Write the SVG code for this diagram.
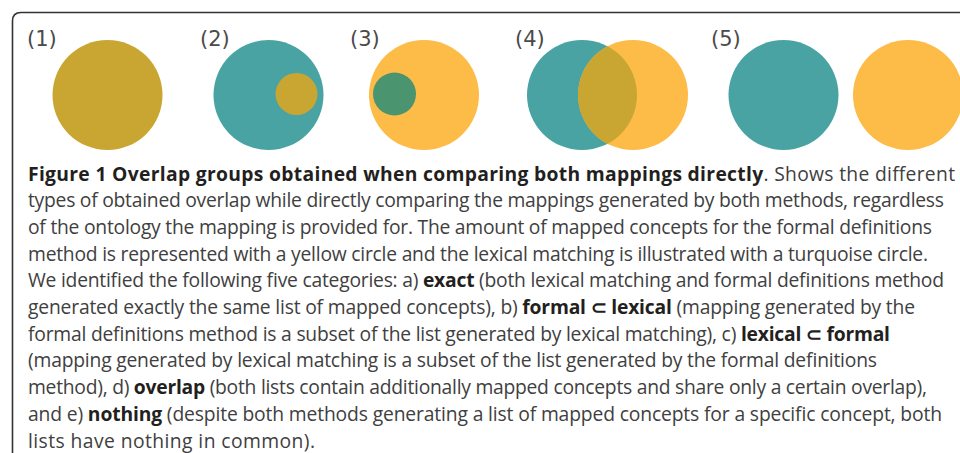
<svg xmlns="http://www.w3.org/2000/svg" width="960" height="453" viewBox="0 0 960 453">
<style>
.lbl{font-family:"DejaVu Sans",Verdana,sans-serif;font-size:21px;fill:#4a4a4a}
.cap{font-family:"Open Sans","Liberation Sans",sans-serif;font-size:19.3px;fill:#404040}
.b{font-weight:bold;fill:#231f20}
.gold{fill:#C9A632}
.teal{fill:#4AA3A3}
.yel{fill:#FDBB48}
.grn{fill:#4A9470}
</style>
<defs>
<clipPath id="tealClip"><circle cx="582" cy="95" r="55"/></clipPath>
</defs>
<rect width="960" height="453" fill="#fff"/>
<path d="M12.5,453 V21 Q12.5,12.5 21,12.5 H960" fill="none" stroke="#333" stroke-width="1.6"/>
<g id="group1">
<text class="lbl" x="27" y="45.5">(1)</text>
<circle class="gold" cx="107.5" cy="95" r="55"/>
</g>
<g id="group2">
<text class="lbl" x="200" y="45.5">(2)</text>
<circle class="teal" cx="268.5" cy="95" r="55"/>
<circle class="gold" cx="296.5" cy="94" r="21"/>
</g>
<g id="group3">
<text class="lbl" x="350" y="45.5">(3)</text>
<circle class="yel" cx="424" cy="95" r="55"/>
<circle class="grn" cx="394.5" cy="94" r="21.5"/>
</g>
<g id="group4">
<text class="lbl" x="515" y="45.5">(4)</text>
<circle class="teal" cx="582" cy="95" r="55"/>
<circle class="yel" cx="633" cy="95" r="55"/>
<circle class="gold" cx="633" cy="95" r="55" clip-path="url(#tealClip)"/>
</g>
<g id="group5">
<text class="lbl" x="711" y="45.5">(5)</text>
<circle class="teal" cx="783.5" cy="95" r="55"/>
<circle class="yel" cx="908" cy="95" r="55"/>
</g>
<g id="caption" class="cap">
<text x="28" y="180.5" textLength="927" lengthAdjust="spacing"><tspan class="b">Figure 1 Overlap groups obtained when comparing both mappings directly</tspan>. Shows the different</text>
<text x="28" y="207.2" textLength="916" lengthAdjust="spacing">types of obtained overlap while directly comparing the mappings generated by both methods, regardless</text>
<text x="28" y="233.9" textLength="904" lengthAdjust="spacing">of the ontology the mapping is provided for. The amount of mapped concepts for the formal definitions</text>
<text x="28" y="260.6" textLength="900" lengthAdjust="spacing">method is represented with a yellow circle and the lexical matching is illustrated with a turquoise circle.</text>
<text x="28" y="287.3" textLength="916" lengthAdjust="spacing">We identified the following five categories: a) <tspan class="b">exact</tspan> (both lexical matching and formal definitions method</text>
<text x="28" y="314" textLength="887" lengthAdjust="spacing">generated exactly the same list of mapped concepts), b) <tspan class="b">formal ⊂ lexical</tspan> (mapping generated by the</text>
<text x="28" y="340.7" textLength="862" lengthAdjust="spacing">formal definitions method is a subset of the list generated by lexical matching), c) <tspan class="b">lexical ⊂ formal</tspan></text>
<text x="28" y="367.4" textLength="849" lengthAdjust="spacing">(mapping generated by lexical matching is a subset of the list generated by the formal definitions</text>
<text x="28" y="394.1" textLength="899" lengthAdjust="spacing">method), d) <tspan class="b">overlap</tspan> (both lists contain additionally mapped concepts and share only a certain overlap),</text>
<text x="28" y="420.8" textLength="914" lengthAdjust="spacing">and e) <tspan class="b">nothing</tspan> (despite both methods generating a list of mapped concepts for a specific concept, both</text>
<text x="28" y="447.5" textLength="287" lengthAdjust="spacing">lists have nothing in common).</text>
</g>
</svg>
